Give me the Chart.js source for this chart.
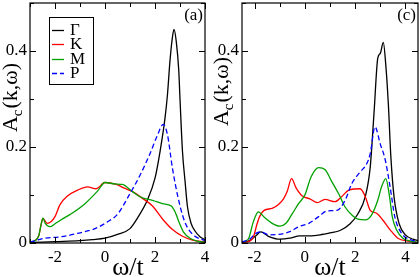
<!DOCTYPE html>
<html lang="en">
<head>
<meta charset="UTF-8" />
<title>A_c(k,w) spectral function</title>
<script src="https://cdn.jsdelivr.net/npm/chart.js@4"></script>
<style>
  body { margin: 0; background: #fff; }
  #wrap { position: relative; width: 420px; height: 277px; }
  .pane { position: absolute; top: 0; width: 210px; height: 277px; }
</style>
</head>
<body>
<div id="wrap">
  <div class="pane" style="left:0"><canvas id="chartA"></canvas></div>
  <div class="pane" style="left:210px"><canvas id="chartC"></canvas></div>
</div>
<script>
// ---- panel (a) ----
const gammaAx = [-3, -2, -1, -0.5, 0, 0.5, 1, 1.3, 1.7, 2, 2.2, 2.4, 2.5, 2.6, 2.7, 2.76, 2.85, 2.95, 3.0, 3.1, 3.2, 3.3, 3.45, 3.6, 3.8, 4];
const gammaAy = [0.001, 0.003, 0.005, 0.007, 0.010, 0.018, 0.030, 0.052, 0.09, 0.135, 0.19, 0.26, 0.31, 0.38, 0.43, 0.445, 0.42, 0.36, 0.30, 0.19, 0.13, 0.075, 0.04, 0.025, 0.013, 0.007];

const kAx = [-3, -2.8, -2.65, -2.55, -2.48, -2.4, -2.31, -2.15, -2.0, -1.8, -1.5, -1.1, -0.7, -0.35, 0, 0.45, 0.75, 1.1, 1.5, 1.9, 2.3, 2.7, 3.1, 3.5, 4];
const kAy = [0.002, 0.005, 0.015, 0.04, 0.051, 0.046, 0.041, 0.045, 0.055, 0.08, 0.098, 0.11, 0.117, 0.113, 0.126, 0.122, 0.115, 0.107, 0.093, 0.077, 0.05, 0.028, 0.014, 0.006, 0.002];

const mAx = [-3, -2.8, -2.65, -2.55, -2.48, -2.4, -2.3, -2.2, -2.0, -1.8, -1.35, -0.8, -0.3, 0, 0.4, 0.7, 1.1, 1.5, 1.9, 2.3, 2.65, 2.8, 2.95, 3.15, 3.4, 3.7, 4];
const mAy = [0.002, 0.005, 0.015, 0.04, 0.052, 0.042, 0.036, 0.034, 0.04, 0.047, 0.061, 0.082, 0.108, 0.126, 0.123, 0.122, 0.107, 0.094, 0.089, 0.082, 0.077, 0.065, 0.045, 0.022, 0.01, 0.004, 0.002];

const pAx = [-3, -2.7, -2.4, -1.75, -1.1, -0.4, 0.1, 0.5, 1.0, 1.4, 1.8, 2.1, 2.33, 2.5, 2.7, 2.9, 3.1, 3.3, 3.6, 4];
const pAy = [0.002, 0.006, 0.01, 0.013, 0.02, 0.03, 0.044, 0.06, 0.103, 0.141, 0.186, 0.225, 0.247, 0.225, 0.155, 0.1, 0.058, 0.032, 0.014, 0.005];

// ---- panel (c) ----
const gammaCx = [-2.5, -2.2, -1.95, -1.75, -1.45, -1.0, -0.6, -0.2, 0.2, 0.6, 1.0, 1.4, 1.8, 2.1, 2.4, 2.6, 2.75, 2.9, 3.0, 3.12, 3.22, 3.32, 3.42, 3.55, 3.75, 4.0, 4.3, 4.5];
const gammaCy = [0.002, 0.005, 0.015, 0.023, 0.014, 0.008, 0.01, 0.015, 0.015, 0.017, 0.021, 0.026, 0.04, 0.06, 0.096, 0.158, 0.27, 0.385, 0.395, 0.418, 0.37, 0.29, 0.18, 0.095, 0.04, 0.017, 0.008, 0.005];

const kCx = [-2.5, -2.2, -2.05, -1.9, -1.8, -1.62, -1.3, -1.05, -0.85, -0.7, -0.53, -0.35, -0.1, 0.2, 0.5, 0.8, 1.2, 1.45, 1.75, 2.2, 2.4, 2.6, 2.85, 3.1, 3.4, 3.7, 4.1, 4.5];
const kCy = [0.001, 0.004, 0.012, 0.04, 0.055, 0.068, 0.072, 0.08, 0.092, 0.108, 0.134, 0.115, 0.098, 0.092, 0.084, 0.091, 0.086, 0.096, 0.11, 0.113, 0.097, 0.068, 0.062, 0.048, 0.027, 0.01, 0.004, 0.001];

const mCx = [-2.5, -2.25, -2.05, -1.85, -1.6, -1.3, -1.0, -0.75, -0.5, -0.25, 0, 0.25, 0.55, 0.8, 1.05, 1.35, 1.6, 1.9, 2.15, 2.4, 2.65, 2.9, 3.05, 3.22, 3.35, 3.48, 3.65, 3.9, 4.2, 4.5];
const mCy = [0.002, 0.008, 0.044, 0.065, 0.053, 0.041, 0.035, 0.041, 0.061, 0.082, 0.1, 0.138, 0.157, 0.153, 0.13, 0.102, 0.075, 0.057, 0.049, 0.048, 0.058, 0.089, 0.117, 0.134, 0.103, 0.054, 0.027, 0.01, 0.004, 0.002];

const pCx = [-2.5, -2.2, -1.95, -1.75, -1.42, -1.03, -0.63, -0.24, 0.16, 0.55, 0.9, 1.28, 1.6, 1.87, 2.2, 2.46, 2.6, 2.79, 3.0, 3.19, 3.39, 3.58, 3.85, 4.2, 4.5];
const pCy = [0.002, 0.008, 0.02, 0.023, 0.017, 0.018, 0.023, 0.034, 0.041, 0.055, 0.067, 0.068, 0.089, 0.124, 0.148, 0.165, 0.186, 0.242, 0.206, 0.175, 0.117, 0.054, 0.02, 0.007, 0.003];

const seriesNames = ['\u0393', 'K', 'M', 'P'];
const seriesColors = ['#000000', '#ff0000', '#00a000', '#0000ff'];

// labelled ticks (minor ticks every 1 in x and 0.1 in y are drawn unlabelled)
const xTickLabels = [-2, 0, 2, 4];
const yTickLabels = [0, 0.2, 0.4];

const FONT = '"Liberation Serif", "DejaVu Serif", serif';

function pts(xs, ys) {
    return xs.map((x, i) => ({ x: x, y: ys[i] }));
}

function makeDatasets(sets) {
    return sets.map((s, i) => ({
        label: seriesNames[i],
        data: pts(s[0], s[1]),
        borderColor: seriesColors[i],
        borderWidth: 1.3,
        borderDash: i === 3 ? [5, 3] : [],
        pointRadius: 0,
        fill: false,
        cubicInterpolationMode: 'monotone',
        order: 3 - i
    }));
}

// frame, inward ticks, axis titles, panel tag, legend
const decor = {
    id: 'decor',
    afterDraw(chart, args, opts) {
        const ctx = chart.ctx;
        const a = chart.chartArea;
        const xs = chart.scales.x, ys = chart.scales.y;
        ctx.save();
        ctx.strokeStyle = '#000';
        ctx.lineWidth = 1.2;
        ctx.strokeRect(a.left, a.top, a.right - a.left, a.bottom - a.top);

        ctx.beginPath();
        for (let v = Math.ceil(xs.min); v <= xs.max; v++) {
            const px = Math.round(xs.getPixelForValue(v)) + 0.5;
            const len = v % 2 === 0 ? 6 : 4;
            ctx.moveTo(px, a.bottom); ctx.lineTo(px, a.bottom - len);
            ctx.moveTo(px, a.top); ctx.lineTo(px, a.top + len);
        }
        for (let k = 0; k <= 5; k++) {
            const py = Math.round(ys.getPixelForValue(k / 10)) + 0.5;
            const len = k % 2 === 0 ? 6 : 4;
            ctx.moveTo(a.left, py); ctx.lineTo(a.left + len, py);
            ctx.moveTo(a.right, py); ctx.lineTo(a.right - len, py);
        }
        ctx.lineWidth = 1;
        ctx.stroke();

        ctx.fillStyle = '#000';
        // y title A_c(k,w)
        ctx.save();
        ctx.translate(opts.yTitleX, opts.yTitleY);
        ctx.rotate(-Math.PI / 2);
        ctx.textBaseline = 'alphabetic';
        ctx.font = '22px ' + FONT;
        const wA = ctx.measureText('A').width;
        ctx.font = '15px ' + FONT;
        const wc = ctx.measureText('c').width;
        ctx.font = '22px ' + FONT;
        const wr = ctx.measureText('(k,\u03c9)').width;
        let x0 = -(wA + wc + wr) / 2;
        ctx.textAlign = 'left';
        ctx.fillText('A', x0, 7);
        ctx.font = '15px ' + FONT;
        ctx.fillText('c', x0 + wA, 12);
        ctx.font = '22px ' + FONT;
        ctx.fillText('(k,\u03c9)', x0 + wA + wc + 1, 7);
        ctx.restore();

        // x title
        ctx.font = '26px ' + FONT;
        ctx.textAlign = 'center';
        ctx.textBaseline = 'alphabetic';
        ctx.fillText('\u03c9/t', opts.xTitleX, 275);

        // panel tag
        ctx.font = '17px ' + FONT;
        ctx.textAlign = 'right';
        ctx.textBaseline = 'middle';
        ctx.fillText(opts.tag, a.right - 2, 16);

        if (opts.legend) {
            ctx.lineWidth = 1;
            ctx.strokeRect(49.5, 17.5, 44, 67);
            const rows = [30, 44, 59, 73];
            chart.data.datasets.forEach((ds, i) => {
                ctx.beginPath();
                ctx.strokeStyle = ds.borderColor;
                ctx.lineWidth = 1.3;
                ctx.setLineDash(ds.borderDash);
                ctx.moveTo(52, rows[i] + 0.5);
                ctx.lineTo(64, rows[i] + 0.5);
                ctx.stroke();
                ctx.setLineDash([]);
                ctx.fillStyle = '#000';
                ctx.font = '17px ' + FONT;
                ctx.textAlign = 'left';
                ctx.textBaseline = 'middle';
                ctx.fillText(ds.label, 70, rows[i] + 1);
            });
        }
        ctx.restore();
    }
};

function makeChart(id, sets, xmin, xmax, yAxisWidth, padRight, decorOpts) {
    return new Chart(document.getElementById(id), {
        type: 'line',
        data: { datasets: makeDatasets(sets) },
        options: {
            responsive: false,
            animation: false,
            events: [],
            layout: { padding: { top: 3, right: padRight, left: 0, bottom: 0 } },
            plugins: { legend: { display: false }, tooltip: { enabled: false }, decor: decorOpts },
            scales: {
                x: {
                    type: 'linear',
                    min: xmin,
                    max: xmax,
                    grid: { display: false, drawTicks: false },
                    border: { display: false },
                    afterBuildTicks: s => { s.ticks = xTickLabels.map(v => ({ value: v })); },
                    ticks: {
                        autoSkip: false,
                        maxRotation: 0,
                        padding: 4,
                        color: '#000',
                        font: { family: FONT, size: 17 },
                        callback: v => String(v)
                    },
                    afterFit(s) {
                        s.height = 34;
                        s.paddingLeft = 0; s.paddingRight = 0;
                    }
                },
                y: {
                    type: 'linear',
                    min: 0,
                    max: 0.5,
                    grid: { display: false, drawTicks: false },
                    border: { display: false },
                    afterBuildTicks: s => { s.ticks = yTickLabels.map(v => ({ value: v })); },
                    ticks: {
                        autoSkip: false,
                        padding: 3,
                        color: '#000',
                        font: { family: FONT, size: 17 },
                        callback: v => v === 0 ? '0' : v.toFixed(1)
                    },
                    afterFit(s) {
                        s.width = yAxisWidth;
                        s.paddingTop = 0; s.paddingBottom = 0;
                    }
                }
            }
        },
        plugins: [decor]
    });
}

document.getElementById('chartA').width = 210;
document.getElementById('chartA').height = 277;
document.getElementById('chartC').width = 210;
document.getElementById('chartC').height = 277;

makeChart('chartA',
    [[gammaAx, gammaAy], [kAx, kAy], [mAx, mAy], [pAx, pAy]],
    -3, 4, 30, 5,
    { tag: '(a)', legend: true, yTitleX: 10, yTitleY: 98, xTitleX: 128 });

makeChart('chartC',
    [[gammaCx, gammaCy], [kCx, kCy], [mCx, mCy], [pCx, pCy]],
    -2.5, 4.5, 32, 2,
    { tag: '(c)', legend: false, yTitleX: 11, yTitleY: 92, xTitleX: 120 });
</script>
</body>
</html>
